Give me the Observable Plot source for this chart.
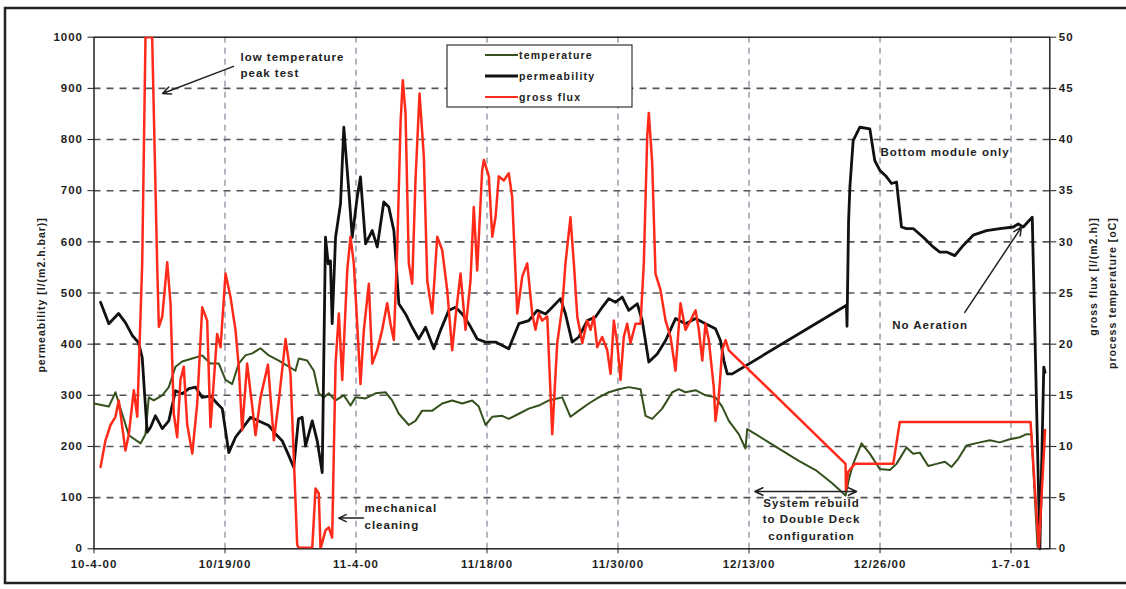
<!DOCTYPE html>
<html>
<head>
<meta charset="utf-8">
<script src="https://cdn.jsdelivr.net/npm/d3@7"></script>
<script src="https://cdn.jsdelivr.net/npm/@observablehq/plot@0.6"></script>
<style>
html,body{margin:0;padding:0;background:#fff;color:#1e1e1e;}
#chart svg{display:block;}
</style>
</head>
<body>
<div id="chart"></div>
<script>
// ---- tick labels (category axis, one label per gridline) ----
const tickPos = [0, 1, 2, 3, 4, 5, 6, 7];
const tickLabels = ["10-4-00", "10/19/00", "11-4-00", "11/18/00", "11/30/00", "12/13/00", "12/26/00", "1-7-01"];

// ---- permeability [l/(m2.h.bar)] (left axis) ----
const permT = [0.050,0.113,0.187,0.240,0.292,0.340,0.368,0.388,0.406,0.431,
0.469,0.521,0.571,0.622,0.673,0.724,0.775,0.826,0.889,0.940,
0.979,1.029,1.080,1.131,1.195,1.258,1.334,1.385,1.437,1.487,
1.525,1.561,1.589,1.615,1.666,1.704,1.742,1.767,1.788,1.805,
1.818,1.844,1.882,1.907,1.945,1.971,2.009,2.034,2.073,2.124,
2.162,2.212,2.250,2.289,2.327,2.378,2.429,2.479,2.531,2.594,
2.645,2.708,2.760,2.811,2.861,2.925,2.989,3.065,3.166,3.243,
3.319,3.383,3.447,3.498,3.561,3.599,3.650,3.701,3.765,3.828,
3.879,3.930,3.981,4.032,4.082,4.147,4.185,4.235,4.299,4.363,
4.439,4.515,4.592,4.668,4.744,4.782,4.808,4.834,4.872,5.744,
5.748,5.760,5.770,5.795,5.846,5.922,5.960,5.998,6.050,6.088,
6.126,6.164,6.202,6.253,6.330,6.406,6.456,6.508,6.571,6.635,
6.711,6.813,6.915,7.017,7.055,7.093,7.162,7.220,7.250,7.260];
const permV = [482,440,460,442,417,403,374,296,228,237,
260,235,250,309,303,313,316,296,299,284,
274,188,218,235,257,250,241,225,211,182,
159,254,257,201,250,211,149,609,557,563,
440,609,675,824,700,609,687,727,596,622,
590,678,668,622,479,459,433,410,433,391,
427,466,472,459,440,410,404,404,391,440,
446,466,459,472,489,459,404,414,446,453,
472,489,482,492,466,479,446,365,381,407,
450,440,450,440,430,407,368,342,342,476,
435,640,707,798,824,821,759,740,727,714,
717,629,626,626,609,590,580,580,573,593,
613,622,626,629,635,629,648,0,355,345];

// ---- process temperature [oC] (right axis) ----
const tempT = [0,0.113,0.164,0.215,0.266,0.355,0.393,0.418,0.456,0.521,
0.571,0.622,0.673,0.750,0.826,0.889,0.953,1.004,1.055,1.105,
1.156,1.208,1.271,1.334,1.411,1.487,1.538,1.563,1.627,1.678,
1.716,1.754,1.792,1.844,1.907,1.958,1.996,2.073,2.149,2.225,
2.276,2.327,2.403,2.454,2.505,2.582,2.658,2.734,2.811,2.887,
2.937,2.989,3.040,3.116,3.166,3.243,3.319,3.395,3.472,3.574,
3.637,3.701,3.777,3.853,3.930,4.006,4.082,4.172,4.210,4.261,
4.337,4.414,4.464,4.515,4.592,4.668,4.744,4.795,4.846,4.922,
4.973,4.986,5.050,5.151,5.253,5.380,5.508,5.635,5.737,5.762,
5.795,5.859,5.922,5.998,6.075,6.126,6.202,6.253,6.304,6.368,
6.431,6.495,6.546,6.597,6.660,6.762,6.838,6.914,6.991,7.067,
7.118,7.156,7.202,7.248];
const tempV = [14.2,13.9,15.3,13.2,11.1,10.3,11.2,14.8,14.5,15.0,
15.8,17.8,18.3,18.6,18.9,18.1,18.1,16.5,16.1,18.1,
18.9,19.1,19.6,18.9,18.4,17.8,17.4,18.6,18.4,17.4,
15.2,14.8,15.2,14.5,15.0,14.0,14.8,14.7,15.2,15.3,
14.5,13.2,12.1,12.5,13.5,13.5,14.2,14.5,14.2,14.5,
13.9,12.1,12.9,13.0,12.7,13.2,13.7,14.0,14.5,14.8,
12.9,13.5,14.2,14.8,15.3,15.6,15.8,15.6,13.0,12.7,
13.7,15.3,15.6,15.3,15.5,15.0,14.8,13.9,12.5,11.2,
9.8,11.7,11.2,10.4,9.6,8.6,7.7,6.4,5.2,6.8,
8.3,10.3,9.3,7.8,7.7,8.3,9.9,9.3,9.4,8.1,
8.3,8.5,8.0,8.8,10.1,10.4,10.6,10.4,10.7,10.9,
11.2,11.2,0.2,11.5];

// ---- gross flux [l/(m2.h)] (right axis) ----
const fluxT = [0.050,0.088,0.126,0.164,0.189,0.240,0.266,0.304,0.330,0.368,
0.393,0.444,0.482,0.495,0.521,0.559,0.584,0.609,0.635,0.660,
0.685,0.711,0.750,0.788,0.826,0.864,0.889,0.915,0.940,0.966,
1.004,1.042,1.080,1.105,1.131,1.169,1.208,1.233,1.271,1.328,
1.373,1.411,1.462,1.500,1.525,1.551,1.563,1.666,1.691,1.716,
1.729,1.767,1.792,1.818,1.844,1.869,1.895,1.933,1.958,1.983,
2.009,2.034,2.060,2.098,2.124,2.162,2.200,2.238,2.263,2.289,
2.315,2.340,2.357,2.378,2.403,2.429,2.454,2.485,2.518,2.544,
2.582,2.620,2.658,2.696,2.734,2.760,2.798,2.836,2.874,2.899,
2.925,2.963,2.976,3.014,3.040,3.065,3.090,3.128,3.166,3.192,
3.231,3.269,3.307,3.345,3.370,3.395,3.421,3.460,3.498,3.536,
3.574,3.599,3.637,3.663,3.689,3.727,3.765,3.790,3.815,3.841,
3.879,3.918,3.943,3.968,3.994,4.019,4.044,4.070,4.095,4.134,
4.172,4.197,4.223,4.235,4.261,4.286,4.324,4.363,4.401,4.439,
4.477,4.515,4.553,4.592,4.617,4.643,4.668,4.693,4.731,4.744,
4.769,4.795,4.821,4.846,5.737,5.740,5.756,5.808,6.101,6.151,
7.149,7.212,7.260];
const fluxV = [8.0,10.6,12.1,12.9,14.5,9.6,11.2,15.5,12.9,27.9,
50,50,27.9,21.7,22.7,28.0,24.0,13.2,10.9,16.5,
17.8,12.2,9.3,14.2,23.6,22.3,11.9,16.5,21.0,19.7,
26.9,24.6,21.4,17.8,11.6,18.1,13.9,11.1,14.8,18.0,
10.6,14.5,20.5,17.1,9.0,0.4,0.1,0.1,5.9,5.4,
0,1.8,2.1,1.1,18.1,23.0,16.5,27.2,30.5,27.9,
22.0,16.1,21.4,25.9,18.1,19.4,21.4,24.0,22.0,20.4,
29.5,41.6,45.8,42.6,27.9,25.9,36.0,44.5,38.3,26.2,
23.0,30.5,29.2,25.3,19.4,22.7,26.9,21.4,26.2,33.4,
27.2,37.0,38.0,36.4,30.5,32.4,36.4,36.0,36.7,34.4,
23.0,26.6,27.9,23.0,21.4,23.0,22.3,22.7,11.2,20.1,
23.6,27.9,32.4,27.9,22.7,20.1,22.3,21.4,22.7,19.7,
20.7,19.4,17.1,22.3,20.1,16.5,20.7,22.0,20.1,22.0,
22.0,27.9,40.3,42.6,37.7,26.9,25.3,22.3,20.7,17.4,
24.0,21.4,22.3,23.3,21.4,18.4,22.0,20.4,15.8,12.5,
14.8,19.4,20.4,19.4,8.3,5.7,7.5,8.3,8.3,12.4,
12.4,0,11.6];

// ---- series names / colours ----
const seriesNames = ["temperature", "permeability", "gross flux"];
const seriesColors = ["#34511d", "#111111", "#ff2a1a"];

// ---- annotations (data coordinates) ----
const noteStart = [
  {t: 1.118, v: 948, label: "low temperature\npeak test"},
  {t: 2.065, v: 66, label: "mechanical\ncleaning"},
  {t: 6.003, v: 778, label: "Bottom module only"},
  {t: 6.093, v: 440, label: "No Aeration"}
];
const noteMiddle = [
  {t: 5.477, v: 60, label: "System rebuild\nto Double Deck\nconfiguration"}
];
const noteArrows = [
  {t1: 1.065, v1: 943, t2: 0.523, v2: 890},
  {t1: 2.057, v1: 60, t2: 1.868, v2: 60},
  {t1: 6.647, v1: 462, t2: 7.080, v2: 629},
  {t1: 5.432, v1: 112, t2: 5.044, v2: 112},
  {t1: 5.432, v1: 112, t2: 5.821, v2: 112}
];

const RIGHT_FACTOR = 20; // right axis 0–50 shares the 0–1000 range of the left axis
const zip = (T, V) => T.slice(0, Math.min(T.length, V.length)).map((t, i) => ({t, v: V[i]}));
const perm = zip(permT, permV);
const temp = zip(tempT, tempV);
const flux = zip(fluxT, fluxV);

const font = "'Liberation Sans', Arial, sans-serif";
const yTicks = d3.range(0, 1001, 100);

const chart = Plot.plot({
  width: 1126,
  height: 589,
  marginLeft: 93.5,
  marginRight: 76.7,
  marginTop: 36.7,
  marginBottom: 40.7,
  style: {fontFamily: font, fontWeight: "bold", letterSpacing: "1px", color: "#1e1e1e", background: "#fff", overflow: "visible"},
  x: {domain: [0, 7.296], label: null},
  y: {domain: [0, 1000], label: null},
  marks: [
    Plot.gridY(d3.range(100, 1000, 100), {stroke: "#555", strokeOpacity: 1, strokeWidth: 1.6, strokeDasharray: "7,6"}),
    Plot.gridX(tickPos.slice(1), {stroke: "#666a80", strokeOpacity: 1, strokeWidth: 1, strokeDasharray: "6,5"}),
    Plot.frame({stroke: "#222", strokeWidth: 1.5}),
    Plot.axisY(yTicks, {anchor: "left", tickSize: 6, tickPadding: 5, fontSize: 11.5, label: null, tickFormat: d => String(d)}),
    Plot.axisY(yTicks, {anchor: "right", tickSize: 6, tickPadding: 3, fontSize: 11.5, label: null, tickFormat: d => String(d / RIGHT_FACTOR)}),
    Plot.axisX(tickPos, {tickSize: 5, tickPadding: 6, fontSize: 11.5, label: null, tickFormat: d => tickLabels[tickPos.indexOf(d)]}),
    Plot.line(temp, {x: "t", y: d => d.v * RIGHT_FACTOR, stroke: seriesColors[0], strokeWidth: 2}),
    Plot.line(perm, {x: "t", y: "v", stroke: seriesColors[1], strokeWidth: 2.8}),
    Plot.line(flux, {x: "t", y: d => d.v * RIGHT_FACTOR, stroke: seriesColors[2], strokeWidth: 2.5, clip: true}),
    Plot.text(noteStart, {x: "t", y: "v", text: "label", textAnchor: "start", lineAnchor: "middle", fontSize: 11.5, lineHeight: 1.45, fill: "#222"}),
    Plot.text(noteMiddle, {x: "t", y: "v", text: "label", textAnchor: "middle", lineAnchor: "middle", fontSize: 11.5, lineHeight: 1.42, fill: "#222"}),
    Plot.arrow(noteArrows, {x1: "t1", y1: "v1", x2: "t2", y2: "v2", stroke: "#222", strokeWidth: 1.5, headLength: 9, headAngle: 50}),
    Plot.text(["permeability [l/(m2.h.bar)]"], {frameAnchor: "top-left", dx: -56.5, dy: 180, rotate: -90, textAnchor: "end", fontSize: 10.5}),
    Plot.text(["gross flux [l/(m2.h)]"], {frameAnchor: "top-right", dx: 40, dy: 180, rotate: -90, textAnchor: "end", fontSize: 10.5}),
    Plot.text(["process temperature [oC]"], {frameAnchor: "top-right", dx: 59, dy: 180, rotate: -90, textAnchor: "end", fontSize: 10.5})
  ]
});

document.getElementById("chart").appendChild(chart);

// legend box (inside the plot, like the original)
const svg = d3.select(chart);
const lg = svg.append("g").attr("font-family", font).attr("font-weight", "bold").attr("font-size", 10.5)
  .attr("text-anchor", "start");
lg.append("rect").attr("x", 447).attr("y", 45).attr("width", 185).attr("height", 62)
  .attr("fill", "#fff").attr("stroke", "#333").attr("stroke-width", 1.2);
const legendRows = [55, 76, 97];
seriesNames.forEach((name, i) => {
  lg.append("line").attr("x1", 485).attr("x2", 518).attr("y1", legendRows[i]).attr("y2", legendRows[i])
    .attr("stroke", seriesColors[i]).attr("stroke-width", i === 1 ? 3 : 2.2);
  lg.append("text").attr("x", 519).attr("y", legendRows[i]).attr("dy", "0.35em")
    .attr("text-anchor", "start").attr("fill", "#222").attr("letter-spacing", "1.2px").text(name);
});

// outer figure border
svg.append("rect").attr("x", 5).attr("y", 8).attr("width", 1130).attr("height", 575)
  .attr("fill", "none").attr("stroke", "#222").attr("stroke-width", 2.5);
</script>
</body>
</html>
